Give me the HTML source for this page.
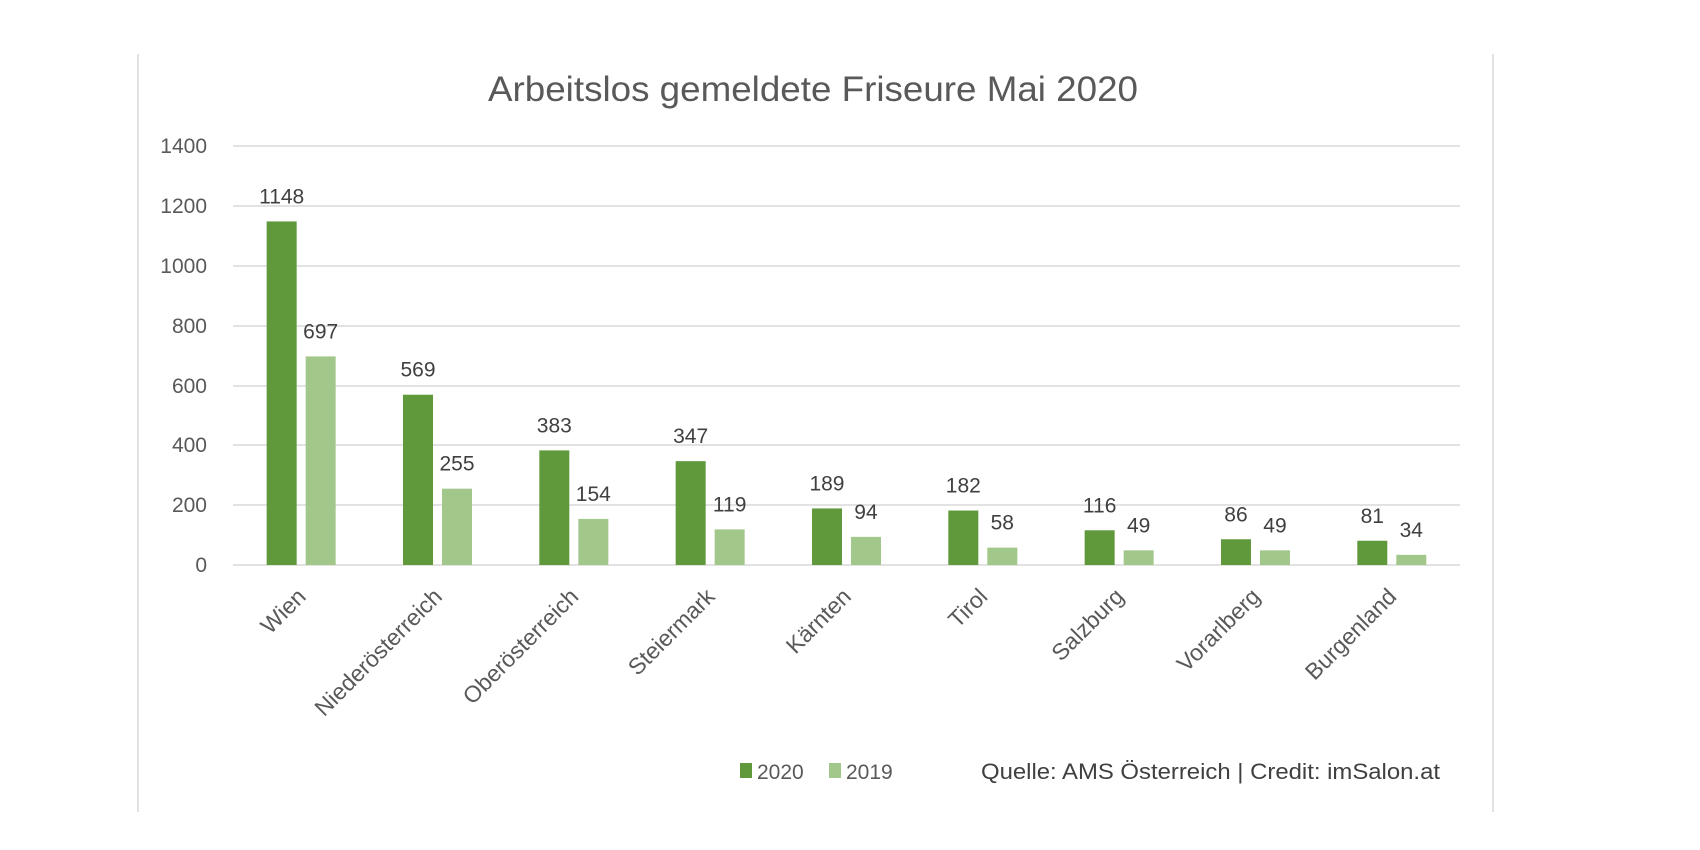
<!DOCTYPE html>
<html><head><meta charset="utf-8"><style>
html,body{margin:0;padding:0;background:#fff;}
svg{display:block;font-family:"Liberation Sans",sans-serif;}
</style></head><body>
<svg width="1700" height="850" viewBox="0 0 1700 850">
<rect width="1700" height="850" fill="#fff"/>
<line x1="138" y1="54" x2="138" y2="812" stroke="#d9d9d9" stroke-width="1.5"/>
<line x1="1493" y1="54" x2="1493" y2="812" stroke="#d9d9d9" stroke-width="1.5"/>
<text x="813" y="101" font-size="35" fill="#595959" text-anchor="middle" textLength="650" lengthAdjust="spacingAndGlyphs">Arbeitslos gemeldete Friseure Mai 2020</text>
<g stroke="#d9d9d9" stroke-width="1.5">
<line x1="233" y1="146" x2="1460" y2="146"/>
<line x1="233" y1="206" x2="1460" y2="206"/>
<line x1="233" y1="266" x2="1460" y2="266"/>
<line x1="233" y1="326" x2="1460" y2="326"/>
<line x1="233" y1="386" x2="1460" y2="386"/>
<line x1="233" y1="445" x2="1460" y2="445"/>
<line x1="233" y1="505" x2="1460" y2="505"/>
<line x1="233" y1="565" x2="1460" y2="565"/>
</g>
<g font-size="21" fill="#595959" text-anchor="end">
<text x="207" y="153">1400</text><text x="207" y="213">1200</text><text x="207" y="273">1000</text>
<text x="207" y="333">800</text><text x="207" y="393">600</text><text x="207" y="452">400</text>
<text x="207" y="512">200</text><text x="207" y="572">0</text>
</g>
<g id="bars"></g>
<g font-size="21" fill="#404040" text-anchor="middle" id="labels"></g>
<g font-size="23" fill="#595959" text-anchor="end" id="cats"></g>
<rect x="740" y="763" width="12" height="15" fill="#5f993c"/>
<text x="757" y="779" font-size="21" fill="#595959">2020</text>
<rect x="829" y="763" width="12" height="15" fill="#a2c78a"/>
<text x="846" y="779" font-size="21" fill="#595959">2019</text>
<text x="981" y="779" font-size="22" fill="#404040" textLength="459" lengthAdjust="spacingAndGlyphs">Quelle: AMS Österreich | Credit: imSalon.at</text>
<script>
var d=[["Wien",1148,697],["Niederösterreich",569,255],["Oberösterreich",383,154],["Steiermark",347,119],["Kärnten",189,94],["Tirol",182,58],["Salzburg",116,49],["Vorarlberg",86,49],["Burgenland",81,34]];
var ns="http://www.w3.org/2000/svg",B=document.getElementById("bars"),L=document.getElementById("labels"),C=document.getElementById("cats");
function el(t,a,p,txt){var e=document.createElementNS(ns,t);for(var k in a)e.setAttribute(k,a[k]);if(txt)e.textContent=txt;p.appendChild(e);}
var s=419/1400;
d.forEach(function(r,i){var cx=233+136.33*(i+0.5);
var h1=r[1]*s,h2=r[2]*s;
el("rect",{x:cx-34.5,y:565-h1,width:30,height:h1,fill:"#5f993c"},B);
el("rect",{x:cx+4.5,y:565-h2,width:30,height:h2,fill:"#a2c78a"},B);
el("text",{x:cx-19.5,y:565-h1-18},L,""+r[1]);
el("text",{x:cx+19.5,y:565-h2-18},L,""+r[2]);
el("text",{x:cx+6,y:598,transform:"rotate(-45 "+(cx+6)+" 598)"},C,r[0]);
});
</script>
</svg>
</body></html>
